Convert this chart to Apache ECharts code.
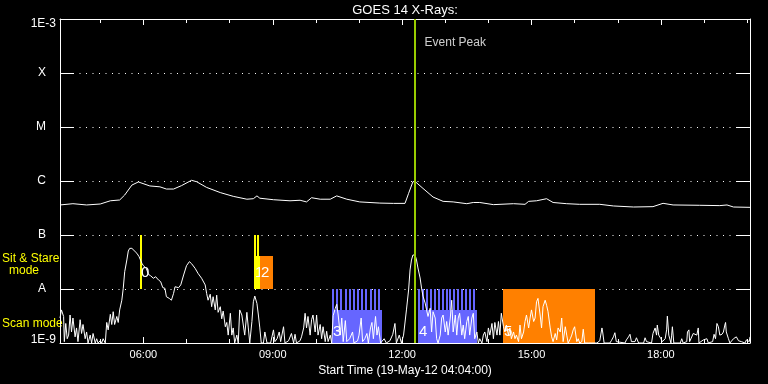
<!DOCTYPE html>
<html>
<head>
<meta charset="utf-8">
<script src="https://cdn.jsdelivr.net/npm/echarts@6/dist/echarts.min.js"></script>
<style>
html,body{margin:0;padding:0;background:#000;}
#chart{width:768px;height:384px;}
</style>
</head>
<body>
<div id="chart"></div>
<script>
// ---------------- DATA ----------------
const START = '04:04';
const END = '20:04';
const majorTicks = ['06:00', '09:00', '12:00', '15:00', '18:00'];
const minorTicks = ['05:00', '07:00', '08:00', '10:00', '11:00', '13:00', '14:00', '16:00', '17:00', '19:00', '20:00'];
const classExponents = [-9, -8, -7, -6, -5, -4, -3];
const classLabels = ['1E-9', 'A', 'B', 'C', 'M', 'X', '1E-3'];

const NANO = 1e-9; // flux values below are in units of 1e-9 W/m^2

// GOES 14, 1-8 Angstrom channel: [time, flux in nW/m^2]
const longChannel = [
  ['04:04', 360], ['04:22', 380], ['04:41', 360], ['05:00', 375], ['05:14', 430], ['05:27', 445],
  ['05:34', 550], ['05:44', 840], ['05:53', 960], ['06:09', 810], ['06:23', 780], ['06:32', 710],
  ['06:42', 710], ['06:53', 820], ['07:07', 1030], ['07:14', 970], ['07:28', 760], ['07:47', 610],
  ['08:05', 520], ['08:24', 460], ['08:33', 470], ['08:38', 530], ['08:42', 480], ['09:01', 450],
  ['09:24', 430], ['09:38', 440], ['09:47', 410], ['09:54', 490], ['10:06', 460], ['10:20', 460],
  ['10:29', 530], ['10:43', 460], ['11:01', 410], ['11:29', 390], ['11:48', 385], ['12:04', 385],
  ['12:09', 590], ['12:15', 970], ['12:18', 980], ['12:29', 730], ['12:43', 505], ['12:57', 420],
  ['13:11', 410], ['13:30', 380], ['13:39', 400], ['13:48', 400], ['14:07', 365], ['14:35', 380],
  ['14:51', 370], ['14:56', 420], ['15:07', 430], ['15:21', 470], ['15:23', 500], ['15:30', 400],
  ['15:49', 380], ['16:07', 370], ['16:35', 370], ['16:54', 345], ['17:22', 330], ['17:49', 335],
  ['18:03', 386], ['18:17', 360], ['18:54', 355], ['19:22', 350], ['19:32', 360], ['19:41', 330],
  ['20:04', 325]
];

// GOES 14, 0.5-4 Angstrom channel: [minutes after START, flux in nW/m^2]
const shortChannel = [
  [0,2.9],[2,4.1],[5,3.1],[6,1.06],[8,2.3],[10,1.2],[12,1.4],[14,3.3],[16,1.6],[18,2.9],[21,1.3],[23,1.9],
  [25,1.06],[28,2.7],[30,1.5],[32,2.2],[35,1.2],[37,1.6],[39,1.0],[42,1.4],[44,1.0],[46,1.5],[49,1.0],[51,1.2],
  [53,1.0],[56,1.1],[58,1.0],[60,1.2],[63,1.0],[65,2.4],[67,1.75],[70,3.4],[72,2.2],[74,3.8],[76,2.2],[79,3.1],
  [81,2.4],[83,4.1],[86,6.2],[88,10.3],[90,20.9],[93,34.5],[95,50.6],[97,56.6],[100,56.6],[102,52.7],[107,45.8],
  [110,39.7],[114,29.9],[116,27],[120,24.1],[123,18.7],[126,17.6],[130,15.8],[133,16.9],[137,14.7],[140,13.7],
  [143,10.6],[146,10.3],[148,7.2],[152,6.7],[155,6.2],[158,8.3],[160,11],[165,10.6],[168,11.9],[172,18.2],
  [176,27],[180,32.1],[183,29.5],[188,24.1],[192,19.5],[197,15.8],[202,11.9],[204,8.3],[206,6.2],[209,8.0],
  [211,4.7],[213,7.2],[216,4.1],[218,7.7],[220,3.7],[223,4.7],[225,2.8],[227,3.9],[230,2.0],[232,2.4],
  [234,1.4],[237,3.55],[239,1.4],[241,1.9],[243,1.0],[246,1.4],[248,1.0],
  [250,4.1],[253,3.3],[255,3.55],[257,1.4],[260,3.7],[262,1.9],[264,1.0],[267,2.5],[269,5.8],[271,7.4],
  [274,5.4],[276,3.3],[278,1.9],[280,1.0],[283,1.0],[285,1.6],[288,1.0],[293,1.0],[297,1.75],[299,1.06],
  [302,1.2],[305,1.6],[307,1.06],[311,2.0],[313,1.0],[318,1.1],[322,1.5],[325,1.0],[327,1.45],[329,1.0],
  [334,1.1],[336,1.3],[339,1.9],[341,3.55],[343,1.9],[345,3.1],[348,1.4],[350,2.7],[352,3.3],[355,1.6],
  [357,3.3],[359,1.4],[362,2.2],[364,1.2],[366,2.0],[369,1.06],[371,1.65],[373,1.06],[376,1.4],[378,1.0],
  [380,3.2],[383,4.4],[385,5.2],[387,3.3],[390,1.4],[392,2.9],[394,1.06],[397,2.6],[399,1.06],[403,1.2],
  [407,1.6],[409,1.0],[414,1.1],[416,1.4],[419,2.9],[421,1.06],[424,1.2],[427,1.5],[429,1.0],[432,1.9],
  [434,2.4],[436,1.2],[439,3.1],[441,1.4],[443,2.0],[446,1.0],[451,1.2],[454,1.0],[459,1.1],[463,1.45],
  [466,2.3],[468,1.0],[472,1.4],[475,1.0],[478,1.4],[480,1.3],[482,4.1],[485,9.6],[487,22.5],[489,34.5],
  [491,42.6],[494,42.6],[496,34.5],[498,24.5],[501,16],[503,10.4],[505,7.4],[508,5.5],[510,4.1],
  [512,3.1],[515,4.4],[517,1.6],[519,3.8],[522,2.9],[524,1.2],[526,1.0],[529,1.4],[531,2.9],[533,3.3],
  [536,1.6],[538,2.5],[540,1.4],[543,2.9],[545,6.2],[547,1.6],[550,3.3],[552,1.4],[554,2.9],[556,3.55],
  [559,1.4],[561,2.15],[563,1.2],[566,2.5],[568,3.1],[570,1.4],[573,2.9],[575,3.55],[577,1.2],[580,1.6],
  [582,1.0],[584,1.2],[587,1.0],[589,1.4],[591,1.6],[594,1.06],[596,1.9],[598,1.4],[601,2.3],[603,1.2],
  [605,2.4],[608,1.4],[610,2.5],[612,1.4],[614,3.55],[617,2.0],[619,1.6],[621,2.15],[624,1.4],[626,1.9],
  [628,1.2],[631,1.6],[633,1.2],[635,1.4],[638,1.06],[640,2.15],[642,1.2],[645,1.6],[647,2.5],[649,3.3],
  [652,1.9],[654,2.9],[656,4.1],[659,2.5],[661,2.9],[663,5.8],[665,6.7],[668,3.3],[670,1.9],[672,4.7],
  [675,6.2],[677,5.0],[679,3.8],[682,1.9],[684,1.3],[686,1.06],[689,1.5],[691,1.14],[693,1.9],[696,1.6],
  [698,2.9],[700,1.06],[703,2.0],[705,1.4],[707,1.0],[710,1.2],[712,1.4],[714,1.75],[716,2.0],[719,1.06],
  [721,1.2],[723,1.0],[726,1.06],[728,1.8],[730,1.0],[735,1.0],
  [740,1.0],[747,1.0],[751,1.1],[754,1.9],[755,1.6],[757,1.0],[765,1.0],[767,1.1],[770,1.3],[772,1.55],
  [774,1.06],[786,1.0],[788,1.14],[791,1.3],[793,1.45],[795,1.06],[800,1.06],[802,1.25],[805,1.0],[812,1.0],
  [814,1.25],[816,1.06],[823,1.0],[825,1.5],[828,1.9],[830,1.4],[831,2.15],[833,1.4],[836,1.2],[838,1.06],
  [842,1.2],[844,1.75],[845,3.15],[847,1.4],[850,1.0],[851,1.4],[852,2.0],[854,1.0],[863,1.0],[865,1.2],
  [867,1.0],[872,1.06],[873,1.6],[875,1.75],[876,1.06],[881,1.5],[883,1.6],[886,1.4],[888,1.9],[889,1.0],
  [895,1.14],[897,1.1],[900,1.2],[902,1.0],[908,1.06],[910,1.45],[912,1.2],[914,2.3],[916,2.0],[918,1.4],
  [921,1.45],[923,1.6],[925,2.15],[926,2.4],[927,1.6],[930,1.2],[932,1.0],[937,1.2],[941,1.3],[944,1.1],
  [948,1.06],[953,1.0],[955,1.14],[959,1.06],[960,1.3]
];

const peakTime = '12:18';
const peakText = 'Event Peak';

// Observation studies
const studyStart     = ['05:55', '08:34', '08:42', '10:22', '12:22', '14:20'];
const studyEnd       = ['05:58', '08:42', '09:00', '11:32', '13:44', '16:28'];
const studyMode      = ['sit', 'sit', 'sit', 'scan', 'scan', 'scan'];
const studyKind      = [0, 0, 1, 2, 2, 1];
const studyExposures = [1, 2, 0, 12, 15, -1]; // -1 = continuous
const studyLabels    = ['0', '1', '2', '3', '4', '5'];

const modeNames = ['sit', 'scan'];
const modeBands = [[1e-8, 1e-7], [1e-9, 1e-8]]; // flux band used by each mode row

const titleText = 'GOES 14 X-Rays:';
const xAxisName = 'Start Time (19-May-12 04:04:00)';
const sitModeText = ['Sit & Stare', 'mode'];
const scanModeText = 'Scan mode';

// ---------------- STYLE ----------------
const FONT = '"Liberation Sans", Arial, sans-serif';
const WHITE = '#ffffff';
const kindColors = ['#ffff00', '#ff8000', '#6666ff'];
const peakColor = '#99cc00';
const BOX_FRACTION = 0.61;
const labelLift = [0.3, 0.2];
const peakLabelLevel = 3.6e-4;

// ---------------- BUILD ----------------
function toMin(s) { const p = s.split(':'); return (+p[0]) * 60 + (+p[1]); }
function pad2(n) { return (n < 10 ? '0' : '') + n; }
function fmtClock(m) { return pad2(Math.floor(m / 60)) + ':' + pad2(Math.round(m % 60)); }

const startMin = toMin(START);
const endMin = toMin(END);
const majorVals = majorTicks.map(toMin);
const minorVals = minorTicks.map(toMin);

const longData = longChannel.map(d => [toMin(d[0]), d[1] * NANO]);
const shortData = shortChannel.map(d => [startMin + d[0], d[1] * NANO]);

const studyRows = studyStart.map((s, i) => [
  toMin(s), toMin(studyEnd[i]), modeNames.indexOf(studyMode[i]), studyKind[i], studyExposures[i], i
]);

function renderStudy(params, api) {
  const s = api.value(0), e = api.value(1), mi = api.value(2), ki = api.value(3), n = api.value(4), li = api.value(5);
  const band = modeBands[mi];
  const p0 = api.coord([s, band[0]]);
  const p1 = api.coord([e, band[1]]);
  const x0 = Math.round(p0[0]), yBot = Math.round(p0[1]), x1 = Math.round(p1[0]), yTop = Math.round(p1[1]);
  const w = x1 - x0, h = yBot - yTop;
  const color = kindColors[ki];
  const children = [];
  if (n < 0) {
    children.push({ type: 'rect', shape: { x: x0, y: yTop, width: w, height: h }, style: { fill: color } });
  } else {
    const bh = Math.round(h * BOX_FRACTION);
    children.push({ type: 'rect', shape: { x: x0, y: yBot - bh, width: w, height: bh }, style: { fill: color } });
    const period = w / n;
    const tw = Math.max(2, Math.round(period / 2));
    for (let k = 0; k < n; k++) {
      children.push({ type: 'rect', shape: { x: Math.round(x0 + k * period), y: yTop, width: tw, height: h }, style: { fill: color } });
    }
  }
  children.push({
    type: 'text', x: x0 + 1, y: yBot - h * labelLift[mi],
    style: { text: studyLabels[li], fill: WHITE, font: '15px ' + FONT, textVerticalAlign: 'middle' }
  });
  return { type: 'group', children: children };
}

function yLabel(v) {
  const e = Math.round(Math.log10(v));
  const t = classLabels[classExponents.indexOf(e)];
  if (t === undefined) return '';
  if (e === classExponents[classExponents.length - 1]) return '{top|' + t + '}';
  if (e === classExponents[0]) return '{bot|' + t + '}';
  return '{cls|' + t + '}';
}

const xBase = {
  type: 'value', min: startMin, max: endMin,
  splitLine: { show: false },
  axisLine: { onZero: false, lineStyle: { color: WHITE, width: 1 } },
  axisLabel: { show: false }
};
const yBase = {
  type: 'log', logBase: 10, min: Math.pow(10, classExponents[0]), max: Math.pow(10, classExponents[classExponents.length - 1]),
  axisLine: { show: true, onZero: false, lineStyle: { color: WHITE, width: 1 } },
  axisTick: { show: true, inside: true, length: 14, lineStyle: { color: WHITE, width: 1 } },
  splitLine: { show: false },
  axisLabel: { show: false }
};

const labelTxt = { color: WHITE, fontSize: 12, fontFamily: FONT };

const option = {
  backgroundColor: '#000000',
  animation: false,
  grid: { left: 60, right: 18, top: 19, bottom: 41, containLabel: false },
  xAxis: [
    Object.assign({}, xBase, {
      position: 'bottom',
      axisTick: { show: true, inside: true, length: 6, customValues: majorVals, lineStyle: { color: WHITE } },
      axisLabel: { show: true, customValues: majorVals, formatter: fmtClock, color: WHITE, fontSize: 11, fontFamily: FONT, margin: 6 },
      name: xAxisName, nameLocation: 'middle', nameGap: 19,
      nameTextStyle: { color: WHITE, fontSize: 12, fontFamily: FONT }
    }),
    Object.assign({}, xBase, {
      position: 'bottom', axisLine: { show: false },
      axisTick: { show: true, inside: true, length: 4, customValues: minorVals, lineStyle: { color: WHITE } }
    }),
    Object.assign({}, xBase, {
      position: 'top',
      axisTick: { show: true, inside: true, length: 6, customValues: majorVals, lineStyle: { color: WHITE } }
    }),
    Object.assign({}, xBase, {
      position: 'top', axisLine: { show: false },
      axisTick: { show: true, inside: true, length: 4, customValues: minorVals, lineStyle: { color: WHITE } }
    })
  ],
  yAxis: [
    Object.assign({}, yBase, {
      position: 'left',
      axisLabel: {
        show: true, margin: 4, color: WHITE, fontSize: 12, fontFamily: FONT, formatter: yLabel,
        rich: {
          top: Object.assign({ padding: [9, 0, 0, 0] }, labelTxt),
          bot: Object.assign({ padding: [0, 0, 6, 0] }, labelTxt),
          cls: Object.assign({ padding: [0, 10, 0, 0] }, labelTxt)
        }
      },
      splitLine: { show: true, lineStyle: { color: WHITE, width: 1, type: [1, 5.5] } }
    }),
    Object.assign({}, yBase, { position: 'right' })
  ],
  series: [
    {
      type: 'custom', name: 'Studies', renderItem: renderStudy, data: studyRows,
      xAxisIndex: 0, yAxisIndex: 0, z: 1, silent: true, clip: false
    },
    {
      type: 'line', name: '1-8 A', data: longData, showSymbol: false, symbol: 'none',
      lineStyle: { color: WHITE, width: 1 }, z: 3, silent: true
    },
    {
      type: 'line', name: '0.5-4 A', data: shortData, showSymbol: false, symbol: 'none',
      lineStyle: { color: WHITE, width: 1 }, z: 3, silent: true
    },
    {
      type: 'line', name: 'Event Peak', data: [], z: 5, silent: true,
      markLine: {
        silent: true, symbol: ['none', 'none'], label: { show: false },
        lineStyle: { color: peakColor, width: 2, type: 'solid' },
        data: [{ xAxis: toMin(peakTime) }]
      }
    },
    {
      type: 'scatter', name: 'Event Peak label', data: [[toMin(peakTime), peakLabelLevel]],
      symbolSize: 1, itemStyle: { color: 'rgba(0,0,0,0)' }, z: 6, silent: true,
      label: { show: true, position: 'right', distance: 9, formatter: peakText, color: WHITE, fontSize: 12, fontFamily: FONT }
    }
  ],
  graphic: [
    { type: 'text', x: 405, y: 10, silent: true,
      style: { text: titleText, fill: WHITE, font: '13px ' + FONT, textAlign: 'center', textVerticalAlign: 'middle' } },
    { type: 'text', x: 2, y: 259, silent: true,
      style: { text: sitModeText[0], fill: '#ffff00', font: '12px ' + FONT, textAlign: 'left', textVerticalAlign: 'middle' } },
    { type: 'text', x: 24, y: 271, silent: true,
      style: { text: sitModeText[1], fill: '#ffff00', font: '12px ' + FONT, textAlign: 'center', textVerticalAlign: 'middle' } },
    { type: 'text', x: 2, y: 324, silent: true,
      style: { text: scanModeText, fill: '#ffff00', font: '12px ' + FONT, textAlign: 'left', textVerticalAlign: 'middle' } }
  ]
};

const chart = echarts.init(document.getElementById('chart'), null, { renderer: 'canvas' });
chart.setOption(option);
</script>
</body>
</html>
